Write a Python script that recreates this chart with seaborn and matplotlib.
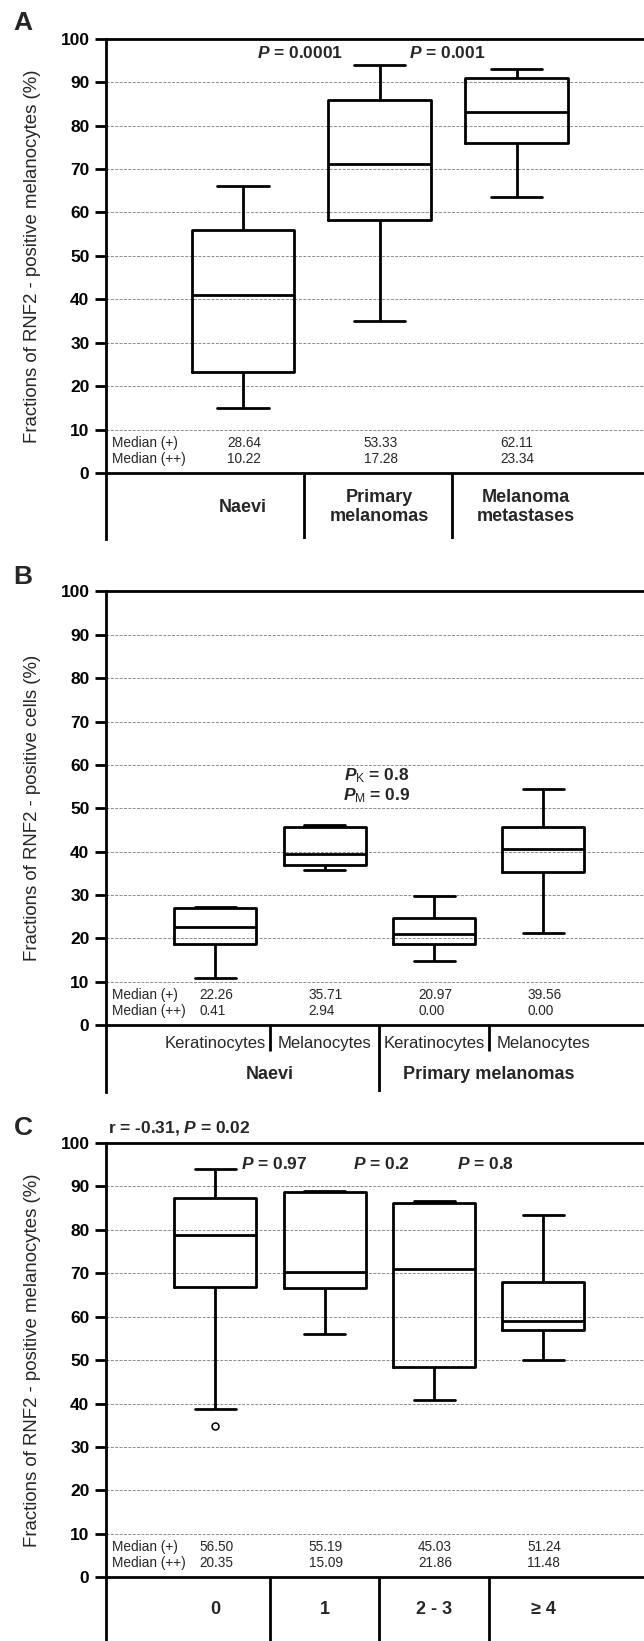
import numpy as np
import pandas as pd
import seaborn as sns
import matplotlib.pyplot as plt

# panel A: boxes as (min, q1, median, q3, max)
groups_a = ['Naevi', 'Primary\nmelanomas', 'Melanoma\nmetastases']
naevi_a = [15.0, 23.2, 41.1, 55.9, 66.1]
primary_a = [35.0, 58.3, 71.1, 85.8, 93.9]
metastases_a = [63.6, 76.0, 83.1, 91.0, 93.1]
med_plus_a = ['28.64', '53.33', '62.11']
med_pp_a = ['10.22', '17.28', '23.34']

# panel B
groups_b = ['Naevi K', 'Naevi M', 'Primary K', 'Primary M']
cells_b = ['Keratinocytes', 'Melanocytes', 'Keratinocytes', 'Melanocytes']
tissues_b = ['Naevi', 'Primary melanomas']
naevi_ker_b = [10.9, 18.6, 22.6, 27.0, 27.3]
naevi_mel_b = [35.7, 36.8, 39.4, 45.6, 46.2]
primary_ker_b = [14.8, 18.6, 21.0, 24.6, 29.8]
primary_mel_b = [21.3, 35.2, 40.6, 45.6, 54.4]
med_plus_b = ['22.26', '35.71', '20.97', '39.56']
med_pp_b = ['0.41', '2.94', '0.00', '0.00']

# panel C
groups_c = ['0', '1', '2 - 3', '\u2265 4']
c0 = [38.8, 66.9, 78.7, 87.3, 93.9]
c1 = [56.1, 66.6, 70.3, 88.7, 89.0]
c23 = [40.8, 48.3, 70.9, 86.1, 86.7]
c4 = [49.9, 56.9, 59.1, 68.0, 83.5]
outliers_c = [34.8]
med_plus_c = ['56.50', '55.19', '45.03', '51.24']
med_pp_c = ['20.35', '15.09', '21.86', '11.48']

sns.set_theme(style='white')
plt.rcParams['font.family'] = ['Liberation Sans', 'DejaVu Sans']
plt.rcParams['mathtext.fontset'] = 'custom'
plt.rcParams['mathtext.it'] = 'Liberation Sans:italic:bold'
plt.rcParams['mathtext.rm'] = 'Liberation Sans'
plt.rcParams['mathtext.bf'] = 'Liberation Sans:bold'

LW = 2.0


def long_df(groups, values):
    return pd.DataFrame({'group': np.repeat(groups, 5),
                         'value': np.concatenate(values)})


def panel(ax, df, groups, ybottom, xright, ylabel, plus, pp):
    sns.boxplot(data=df, x='group', y='value', order=groups, width=0.75,
                fill=False, color='black', linewidth=LW, whis=np.inf, ax=ax)
    ax.set_xlim(-1.0, xright)
    ax.set_ylim(ybottom, 100)
    ax.set_xticks([])
    ax.set_xlabel('')
    ax.set_ylabel('')
    ax.set_yticks(range(0, 101, 10))
    ax.yaxis.grid(True, linestyle=(0, (3, 1.5)), color='#8c8c8c', lw=0.7)
    ax.set_axisbelow(True)
    ax.tick_params(axis='y', length=7.9, width=LW, labelsize=12.5, pad=4,
                   left=True, colors='black')
    for t in ax.get_yticklabels():
        t.set_fontweight('bold')
    for s in ['right', 'bottom']:
        ax.spines[s].set_visible(False)
    for s in ['left', 'top']:
        ax.spines[s].set_linewidth(LW)
        ax.spines[s].set_color('black')
    ax.axhline(0, color='black', lw=LW)
    tr = ax.get_yaxis_transform()
    ax.text(-0.1366, 50, ylabel, transform=tr, rotation=90, ha='center',
            va='center', fontsize=13.4)
    ax.text(0.012, 7.0, 'Median (+)', transform=tr, ha='left', va='center',
            fontsize=9.8)
    ax.text(0.012, 3.3, 'Median (++)', transform=tr, ha='left', va='center',
            fontsize=9.8)
    for i, (a, b) in enumerate(zip(plus, pp)):
        ax.annotate(a, (i, 7.0), xytext=(-11.5, 0), textcoords='offset points',
                    ha='left', va='center', fontsize=9.8)
        ax.annotate(b, (i, 3.3), xytext=(-11.5, 0), textcoords='offset points',
                    ha='left', va='center', fontsize=9.8)


fig = plt.figure(figsize=(6.44, 16.41), dpi=100)
left = 106 / 644
width = 1 - left

# ---- A
axA = fig.add_axes([left, 0.67166, width, 0.30476])
dfA = long_df(groups_a, [naevi_a, primary_a, metastases_a])
panel(axA, dfA, groups_a, -15.1, 2.93,
      'Fractions of RNF2 - positive melanocytes (%)', med_plus_a, med_pp_a)
axA.text(0.42, 96.6, '$P$ = 0.0001', ha='center', va='center', fontsize=12.5,
         fontweight='bold')
axA.text(1.49, 96.7, '$P$ = 0.001', ha='center', va='center', fontsize=12.5,
         fontweight='bold')
for x, lab in zip([0, 1.0, 2.07], groups_a):
    axA.text(x, -7.8, lab, ha='center', va='center', fontsize=13,
             fontweight='bold', linespacing=1.1)
axA.vlines([0.45, 1.53], -15.1, 0, color='black', lw=LW)

# ---- B
axB = fig.add_axes([left, 0.33467, width, 0.30488])
dfB = long_df(groups_b, [naevi_ker_b, naevi_mel_b, primary_ker_b, primary_mel_b])
panel(axB, dfB, groups_b, -15.4, 3.92,
      'Fractions of RNF2 - positive cells (%)', med_plus_b, med_pp_b)
axB.text(1.48, 57.5, r'$P_{\mathrm{K}}$ = 0.8', ha='center', va='center',
         fontsize=12.5, fontweight='bold')
axB.text(1.48, 52.8, r'$P_{\mathrm{M}}$ = 0.9', ha='center', va='center',
         fontsize=12.5, fontweight='bold')
for i, lab in enumerate(cells_b):
    axB.text(i, -4.3, lab, ha='center', va='center', fontsize=12)
for x, lab in zip([0.5, 2.5], tissues_b):
    axB.text(x, -11.5, lab, ha='center', va='center', fontsize=13,
             fontweight='bold')
axB.vlines([0.5, 2.5], -5.9, 0, color='black', lw=LW)
axB.vlines([1.5], -15.4, 0, color='black', lw=LW)

# ---- C
axC = fig.add_axes([left, 0.0, width, 0.30359])
dfC = long_df(groups_c, [c0, c1, c23, c4])
panel(axC, dfC, groups_c, -14.66, 3.92,
      'Fractions of RNF2 - positive melanocytes (%)', med_plus_c, med_pp_c)
sns.stripplot(x=['0'] * len(outliers_c), y=outliers_c, order=groups_c,
              jitter=False, color='white', edgecolor='black', linewidth=1.1,
              size=5, ax=axC)
axC.set_xlim(-1.0, 3.92)
axC.set_ylim(-14.66, 100)
axC.set_xticks([])
axC.set_xlabel('')
axC.set_ylabel('')
axC.text(0.004, 103.3, 'r = -0.31, $P$ = 0.02', transform=axC.get_yaxis_transform(),
         ha='left', va='center', fontsize=12.5, fontweight='bold', clip_on=False)
for x, lab in zip([0.54, 1.52, 2.47], ['0.97', '0.2', '0.8']):
    axC.text(x, 95.1, '$P$ = ' + lab, ha='center', va='center', fontsize=12.5,
             fontweight='bold')
for i, lab in enumerate(groups_c):
    axC.text(i, -7.4, lab, ha='center', va='center', fontsize=13,
             fontweight='bold')
axC.vlines([0.5, 1.5, 2.5], -14.66, 0, color='black', lw=LW)

for y, lab in [(23.5, 'A'), (577, 'B'), (1127.7, 'C')]:
    fig.text(23 / 644, 1 - y / 1641, lab, ha='center', va='center',
             fontsize=19, fontweight='bold')

fig.savefig('out.png', dpi=100)
